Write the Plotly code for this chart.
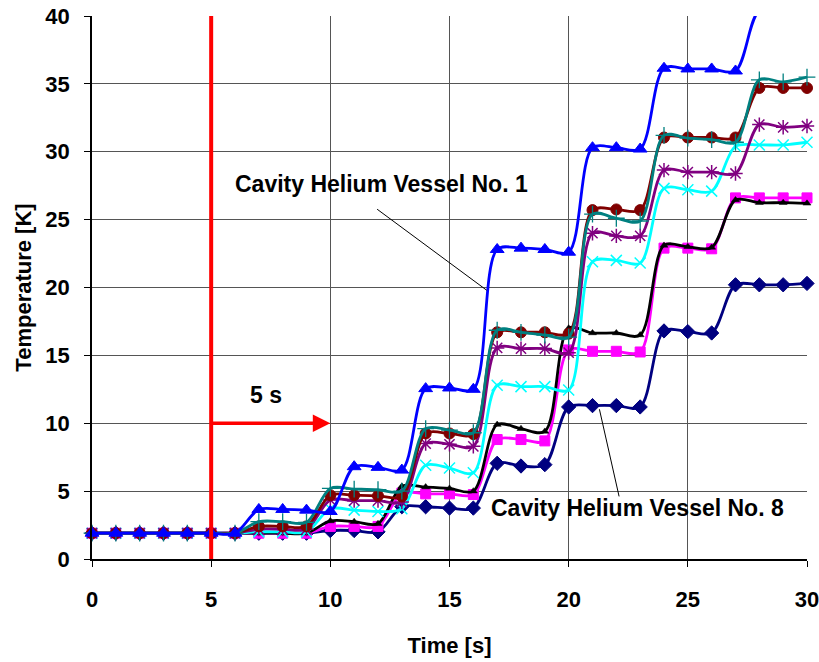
import plotly.graph_objects as go

t = list(range(31))

v1_blue = [1.9]*7 + [3.65, 3.65, 3.6, 3.5, 6.8, 6.75, 6.55, 12.55, 12.6, 12.5,
                     22.8, 22.9, 22.8, 22.6, 30.3, 30.3, 30.2, 36.15, 36.1, 36.1, 35.95,
                     40.4, 40.3, 40.2]
v_teal = [1.9]*7 + [2.75, 2.75, 2.7, 5.2, 5.15, 5.1, 5.0, 9.6, 9.5, 9.3,
                    16.85, 16.7, 16.5, 16.35, 25.4, 25.1, 24.9, 31.2, 31.0, 30.9, 30.7,
                    35.3, 35.15, 35.5]
v_maroon = [1.9]*7 + [2.4, 2.4, 2.4, 4.7, 4.7, 4.65, 4.6, 9.25, 9.25, 9.2,
                      16.7, 16.7, 16.7, 16.6, 25.7, 25.75, 25.7, 31.05, 31.05, 31.05, 31.05,
                      34.7, 34.7, 34.7]
v_purple = [1.9]*7 + [2.2, 2.2, 2.2, 4.35, 4.3, 4.3, 4.2, 8.5, 8.45, 8.3,
                      15.55, 15.5, 15.5, 15.2, 24.0, 23.8, 23.8, 28.65, 28.5, 28.5, 28.4,
                      32.0, 31.8, 31.9]
v_cyan = [1.9]*7 + [2.0, 2.0, 2.0, 3.7, 3.6, 3.5, 3.7, 6.9, 6.7, 6.35,
                    12.8, 12.7, 12.7, 12.45, 21.9, 22.0, 21.8, 27.3, 27.2, 27.1,
                    30.4, 30.5, 30.5, 30.7]
v_black = [1.9]*10 + [2.8, 2.75, 2.6, 5.35, 5.3, 5.2, 5.0, 9.9, 9.6, 9.4,
                      17.0, 16.65, 16.65, 16.5, 23.1, 23.0, 22.95, 26.45, 26.25, 26.25, 26.2]
v_magenta = [1.9]*10 + [2.4, 2.4, 2.4, 4.85, 4.8, 4.8, 4.75, 8.8, 8.8, 8.7,
                        15.4, 15.3, 15.3, 15.25, 22.9, 22.9, 22.85, 26.6, 26.6, 26.6, 26.6]
v8_navy = [1.9]*10 + [2.1, 2.1, 2.0, 3.85, 3.85, 3.75, 3.75, 7.05, 6.85, 6.95,
                      11.2, 11.3, 11.3, 11.2, 16.8, 16.75, 16.65, 20.2, 20.2, 20.2, 20.3]

x_ticks = [0, 5, 10, 15, 20, 25, 30]
y_ticks = [0, 5, 10, 15, 20, 25, 30, 35, 40]
Y_MAX = 40

FONT = "Liberation Sans, Arial, sans-serif"

series = [
    ("Vessel 8", v8_navy, "#000080", dict(symbol="diamond", size=11, color="#000080",
                                          line=dict(color="#000080", width=1))),
    ("Vessel 7", v_magenta, "#FF00FF", dict(symbol="square", size=10, color="#FF00FF",
                                            line=dict(color="#FF00FF", width=1))),
    ("Vessel 6", v_black, "#000000", dict(symbol="triangle-up", size=7, color="#000000",
                                          line=dict(color="#000000", width=0.5))),
    ("Vessel 5", v_cyan, "#00FFFF", dict(symbol="x-thin", size=11, color="#00FFFF",
                                         line=dict(color="#00FFFF", width=1.5))),
    ("Vessel 4", v_purple, "#800080", dict(symbol="asterisk", size=12, color="#800080",
                                           line=dict(color="#800080", width=1.5))),
    ("Vessel 3", v_maroon, "#800000", dict(symbol="circle", size=11, color="#800000",
                                           line=dict(color="#800000", width=1))),
    ("Vessel 2", v_teal, "#008080", dict(symbol="cross-thin", size=12, color="#008080",
                                         line=dict(color="#008080", width=1.3))),
    ("Vessel 1", v1_blue, "#0000FF", dict(symbol="triangle-up", size=12, color="#0000FF",
                                          line=dict(color="#0000FF", width=1))),
]

fig = go.Figure()
for name, vals, col, mk in series:
    mk = dict(mk)
    base = mk["size"]
    mk["size"] = [base if v <= Y_MAX else 0 for v in vals]
    mk["opacity"] = 1
    fig.add_trace(go.Scatter(
        x=t, y=vals, name=name, mode="lines+markers",
        line=dict(color=col, width=2.8, shape="spline", smoothing=0.9),
        marker=mk, opacity=1, cliponaxis=False, showlegend=False,
    ))

fig.add_shape(type="line", x0=5, x1=5, y0=0, y1=40, xref="x", yref="y",
              line=dict(color="#FF0000", width=4), layer="above")

annotations = [
    dict(x=10, y=10, ax=5, ay=10, xref="x", yref="y", axref="x", ayref="y",
         text="", showarrow=True, arrowhead=2, arrowsize=1, arrowwidth=3.5,
         arrowcolor="#FF0000", standoff=0),
    dict(x=7.3, y=12.1, xref="x", yref="y", text="<b>5 s</b>", showarrow=False,
         font=dict(family=FONT, size=23, color="black")),
    dict(x=16.56, y=19.8, ax=11.9, ay=25.85, xref="x", yref="y", axref="x", ayref="y",
         text="", showarrow=True, arrowhead=0, arrowwidth=1, arrowcolor="black"),
    dict(x=21.29, y=11.03, ax=22.13, ay=4.5, xref="x", yref="y", axref="x", ayref="y",
         text="", showarrow=True, arrowhead=0, arrowwidth=1, arrowcolor="black"),
    dict(x=12.13, y=27.6, xref="x", yref="y", text="<b>Cavity Helium Vessel No. 1</b>",
         showarrow=False, font=dict(family=FONT, size=23, color="black")),
    dict(x=22.9, y=3.75, xref="x", yref="y", text="<b>Cavity Helium Vessel No. 8</b>",
         showarrow=False, font=dict(family=FONT, size=23, color="black")),
]

fig.update_layout(
    width=819, height=662,
    margin=dict(l=92, r=12, t=16, b=103),
    paper_bgcolor="white", plot_bgcolor="white",
    font=dict(family=FONT, color="black"),
    annotations=annotations,
)
fig.update_xaxes(
    range=[0, 30], tickvals=x_ticks, ticktext=[f"<b>{v}</b>" for v in x_ticks],
    showgrid=True, gridcolor="#555555", gridwidth=1,
    showline=True, linecolor="black", linewidth=1.5,
    ticks="outside", ticklen=6, tickcolor="black",
    tickfont=dict(family=FONT, size=22), ticklabelstandoff=14,
    ticklabeloverflow="allow", automargin=False,
    zeroline=False,
    title=dict(text="<b>Time [s]</b>", font=dict(family=FONT, size=22), standoff=26),
)
fig.update_yaxes(
    range=[0, 40], tickvals=y_ticks, ticktext=[f"<b>{v}</b>" for v in y_ticks],
    showgrid=True, gridcolor="#555555", gridwidth=1,
    showline=True, linecolor="black", linewidth=1.5,
    ticks="outside", ticklen=6, tickcolor="black",
    tickfont=dict(family=FONT, size=22), ticklabelstandoff=10,
    ticklabeloverflow="allow", automargin=False,
    zeroline=False,
    title=dict(text="<b>Temperature [K]</b>", font=dict(family=FONT, size=22), standoff=8),
)

fig.write_html("out.html")
